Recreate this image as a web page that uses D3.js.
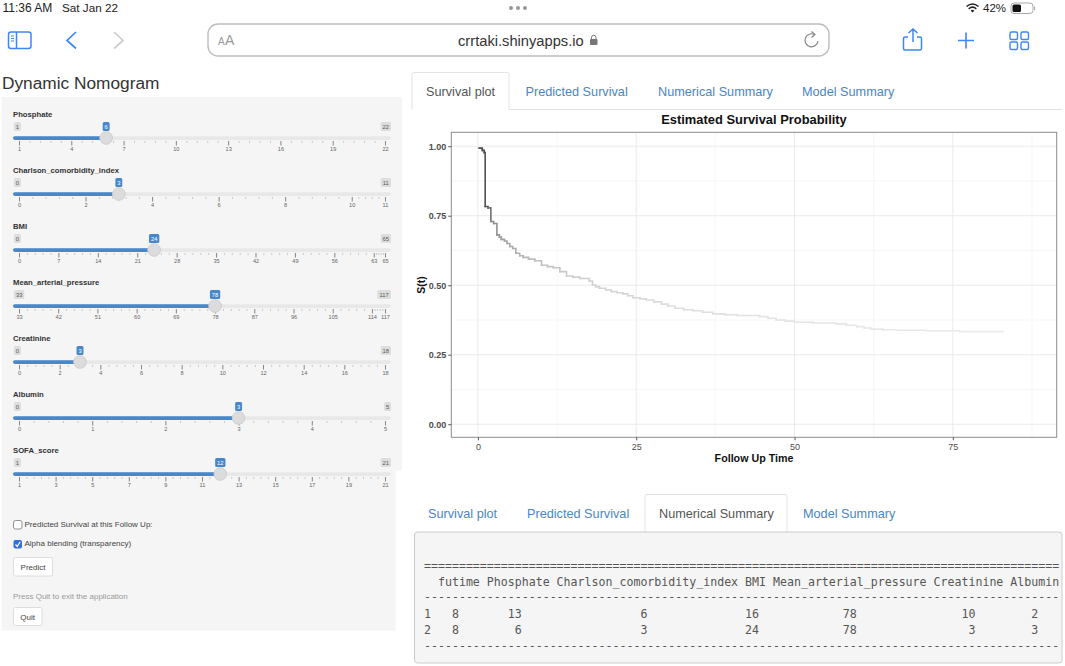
<!DOCTYPE html>
<html>
<head>
<meta charset="utf-8">
<title>Dynamic Nomogram</title>
<script src="https://cdn.jsdelivr.net/npm/d3@7"></script>
<style>
  html, body { margin: 0; padding: 0; background: #fff; overflow: hidden; }
  svg { display: block; font-family: "Liberation Sans", Arial, sans-serif; }
  .mono { font-family: "DejaVu Sans Mono", monospace; font-size: 11.6px; fill: #555; white-space: pre; }
  .axisX .domain, .axisY .domain { display: none; }
</style>
</head>
<body>
<svg id="page" width="1065" height="666"></svg>
<script>
// survival curve, each value holds from its time on
const times = [0.2, 0.7, 1.0, 1.15, 1.6, 2.05, 2.5, 3.0, 3.4, 3.7, 4.2, 4.6, 5.05, 5.5, 6.0, 6.6, 7.15, 8.0, 9.0, 10.05, 11.0, 11.9, 12.95, 14.0, 15.0, 16.1, 17.6, 18.1, 18.6, 19.2, 20.2, 21.1, 22.0, 22.9, 23.7, 24.5, 25.6, 26.6, 27.8, 29.0, 30.0, 31.1, 32.5, 34.0, 35.5, 37.1, 39.0, 41.0, 44.5, 45.8, 47.1, 48.5, 50.0, 53.0, 56.6, 58.2, 59.8, 61.0, 62.1, 64.0, 66.1, 70.8, 76.1, 82.9];
const survival = [0.993, 0.985, 0.977, 0.783, 0.778, 0.729, 0.722, 0.681, 0.673, 0.665, 0.659, 0.650, 0.639, 0.632, 0.615, 0.606, 0.600, 0.594, 0.588, 0.572, 0.567, 0.563, 0.549, 0.533, 0.529, 0.524, 0.515, 0.501, 0.495, 0.489, 0.483, 0.477, 0.473, 0.469, 0.462, 0.455, 0.451, 0.447, 0.440, 0.432, 0.425, 0.417, 0.412, 0.408, 0.403, 0.397, 0.394, 0.391, 0.387, 0.381, 0.375, 0.371, 0.367, 0.364, 0.361, 0.356, 0.351, 0.346, 0.342, 0.340, 0.338, 0.336, 0.333, 0.333];

const xTicks = [0, 25, 50, 75];
const xMinorTicks = [12.5, 37.5, 62.5, 87.5];
const yTicks = [0, 0.25, 0.5, 0.75, 1];
const yMinorTicks = [0.125, 0.375, 0.625, 0.875];

// sliders
const sliderNames = ['Phosphate', 'Charlson_comorbidity_index', 'BMI', 'Mean_arterial_pressure', 'Creatinine', 'Albumin', 'SOFA_score'];
const sliderMin = [1, 0, 0, 33, 0, 0, 1];
const sliderMax = [22, 11, 65, 117, 18, 5, 21];
const sliderValue = [6, 3, 24, 78, 3, 3, 12];
const sliderTicks = [
  [1, 4, 7, 10, 13, 16, 19, 22],
  [0, 2, 4, 6, 8, 10, 11],
  [0, 7, 14, 21, 28, 35, 42, 49, 56, 63, 65],
  [33, 42, 51, 60, 69, 78, 87, 96, 105, 114, 117],
  [0, 2, 4, 6, 8, 10, 12, 14, 16, 18],
  [0, 1, 2, 3, 4, 5],
  [1, 3, 5, 7, 9, 11, 13, 15, 17, 19, 21]
];

// tabs
const tabNames = ['Survival plot', 'Predicted Survival', 'Numerical Summary', 'Model Summary'];
const topTabX = [426, 525.5, 658, 802];
const bottomTabX = [428, 527, 659, 803];

// numerical summary, [text, last char index]
const tableHeader = '  futime Phosphate Charlson_comorbidity_index BMI Mean_arterial_pressure Creatinine Albumin';
const tableEnds = [4, 13, 31, 47, 61, 78, 87];
const tableRows = [
  [8, 13, 6, 16, 78, 10, 2],
  [8, 6, 3, 24, 78, 3, 3]
];

const blue = '#3d86f5';
const linkBlue = '#4a86c2';
const svg = d3.select('#page');

// ---- ipad status bar + safari toolbar
const label = (g, x, y, txt, size, fill, anchor, weight) => g.append('text')
  .attr('x', x).attr('y', y).attr('font-size', size).attr('fill', fill)
  .attr('text-anchor', anchor || 'start').attr('font-weight', weight || 'normal').text(txt);

const chrome = svg.append('g');
label(chrome, 2.5, 12, '11:36 AM', 12, '#222');
label(chrome, 62, 12, 'Sat Jan 22', 11.7, '#222');
label(chrome, 983, 12, '42%', 11.5, '#222');
[511, 518, 525].forEach(x => chrome.append('circle').attr('cx', x).attr('cy', 8).attr('r', 2).attr('fill', '#999'));

// wifi
chrome.append('path').attr('d', 'M966.5 6.5 Q972.5 1.5 978.5 6.5 M968.7 8.8 Q972.5 5.6 976.3 8.8').attr('fill', 'none').attr('stroke', '#222').attr('stroke-width', 1.6);
chrome.append('path').attr('d', 'M970.6 10.4 L972.5 12.5 L974.4 10.4 Q972.5 9 970.6 10.4 Z').attr('fill', '#222');
// battery
chrome.append('rect').attr('x', 1011).attr('y', 3).attr('width', 22).attr('height', 10.5).attr('rx', 3).attr('fill', 'none').attr('stroke', '#aaa');
chrome.append('rect').attr('x', 1012.5).attr('y', 4.5).attr('width', 8.5).attr('height', 7.5).attr('rx', 1.5).attr('fill', '#111');
chrome.append('path').attr('d', 'M1034.5 6.5 v3.5').attr('stroke', '#aaa').attr('stroke-width', 1.2);

// sidebar button, back, forward
chrome.append('rect').attr('x', 8.5).attr('y', 32).attr('width', 22.5).attr('height', 16.5).attr('rx', 2.5).attr('fill', 'none').attr('stroke', blue).attr('stroke-width', 1.5);
chrome.append('path').attr('d', 'M16.5 32 v16.5').attr('stroke', blue).attr('stroke-width', 1.5);
chrome.append('path').attr('d', 'M11 36 h3 M11 38.5 h3 M11 41 h3').attr('stroke', blue).attr('stroke-width', 1);
chrome.append('path').attr('d', 'M76 32 L67 40.5 L76 48.5').attr('fill', 'none').attr('stroke', blue).attr('stroke-width', 1.7);
chrome.append('path').attr('d', 'M114 32 L123 40.5 L114 48.5').attr('fill', 'none').attr('stroke', '#ccc').attr('stroke-width', 1.7);

// url bar
chrome.append('rect').attr('x', 208).attr('y', 24).attr('width', 621).attr('height', 32).attr('rx', 10).attr('fill', '#fff').attr('stroke', '#bdbdbd').attr('stroke-width', 1.4);
label(chrome, 218, 45, 'A', 10, '#999');
label(chrome, 225, 45, 'A', 14, '#999');
label(chrome, 458, 45.5, 'crrtaki.shinyapps.io', 14.7, '#333');
chrome.append('rect').attr('x', 590).attr('y', 39).attr('width', 7.5).attr('height', 6).attr('rx', 1).attr('fill', '#777');
chrome.append('path').attr('d', 'M591.5 39 v-1.5 a2.2 2.2 0 0 1 4.5 0 v1.5').attr('fill', 'none').attr('stroke', '#777');
chrome.append('path').attr('d', 'M814.5 34.5 A6.5 6.5 0 1 0 818 41').attr('fill', 'none').attr('stroke', '#888').attr('stroke-width', 1.2);
chrome.append('path').attr('d', 'M811.5 31.5 L815 34.5 L811.5 37.5').attr('fill', 'none').attr('stroke', '#888').attr('stroke-width', 1.2);

// share, plus, tabs
chrome.append('path').attr('d', 'M908 37 h-3 a1.5 1.5 0 0 0 -1.5 1.5 v10 a1.5 1.5 0 0 0 1.5 1.5 h15 a1.5 1.5 0 0 0 1.5 -1.5 v-10 a1.5 1.5 0 0 0 -1.5 -1.5 h-3 M913 42 v-13 M908.5 33 L913 29 L917.5 33').attr('fill', 'none').attr('stroke', blue).attr('stroke-width', 1.5);
chrome.append('path').attr('d', 'M958 40.5 h16 M966 32.5 v16').attr('stroke', blue).attr('stroke-width', 1.6);
[[1010, 32], [1021, 32], [1010, 42], [1021, 42]].forEach(p => chrome.append('rect')
  .attr('x', p[0]).attr('y', p[1]).attr('width', 7.5).attr('height', 7.5).attr('rx', 1.5)
  .attr('fill', 'none').attr('stroke', blue).attr('stroke-width', 1.4));

// ---- left panel
label(svg, 2, 89, 'Dynamic Nomogram', 17.3, '#333');
svg.append('rect').attr('x', 1.5).attr('y', 97).attr('width', 400.5).attr('height', 373.5).attr('fill', '#f5f5f5');
svg.append('rect').attr('x', 1.5).attr('y', 470).attr('width', 394).attr('height', 160.5).attr('fill', '#f5f5f5');

const sliderStep = 56;
sliderNames.forEach((name, i) => {
  const g = svg.append('g').attr('transform', `translate(0, ${i * sliderStep})`);
  const sx = d3.scaleLinear().domain([sliderMin[i], sliderMax[i]]).range([19, 385]);

  label(g, 13, 117, name, 7.7, '#333', 'start', 'bold');

  // min / max badges
  const badge = (x, txt, fill, color) => {
    const w = String(txt).length * 3.4 + 3.5;
    g.append('rect').attr('x', x - w / 2).attr('y', 122).attr('width', w).attr('height', 9).attr('rx', 1.5).attr('fill', fill);
    label(g, x, 128.7, txt, 5.8, color, 'middle');
  };
  const minTxt = String(sliderMin[i]), maxTxt = String(sliderMax[i]);
  badge(13 + (minTxt.length * 3.4 + 3.5) / 2 + 1, minTxt, '#ddd', '#555');
  badge(391 - (maxTxt.length * 3.4 + 3.5) / 2, maxTxt, '#ddd', '#555');

  // track
  g.append('rect').attr('x', 13).attr('y', 136.3).attr('width', 378).attr('height', 3.6).attr('rx', 1.8).attr('fill', '#e8e8e8');
  g.append('rect').attr('x', 13).attr('y', 136.3).attr('width', sx(sliderValue[i]) - 13).attr('height', 3.6).attr('rx', 1.8).attr('fill', '#4787cc');

  // grid under the track
  const major = sliderTicks[i];
  const minor = [];
  d3.pairs(major).forEach(([a, b]) => d3.range(1, 5).forEach(k => minor.push(a + (b - a) * k / 5)));
  g.append('g').attr('transform', 'translate(0, 141)')
    .call(d3.axisBottom(sx).tickValues(minor).tickSize(2).tickFormat(''))
    .call(a => a.select('.domain').remove())
    .call(a => a.selectAll('line').attr('stroke', '#aaa').attr('stroke-width', 0.6));
  g.append('g').attr('transform', 'translate(0, 141)')
    .call(d3.axisBottom(sx).tickValues(major).tickSize(4.5).tickPadding(1.5).tickFormat(d3.format('d')))
    .call(a => a.select('.domain').remove())
    .call(a => a.selectAll('line').attr('stroke', '#555').attr('stroke-width', 0.7))
    .call(a => a.selectAll('text').attr('font-size', 5.6).attr('font-family', 'Liberation Sans').attr('fill', '#666'));

  // handle + value
  badge(sx(sliderValue[i]), sliderValue[i], '#4787cc', '#fff');
  g.append('circle').attr('cx', sx(sliderValue[i])).attr('cy', 138).attr('r', 6.3).attr('fill', '#dcdcdc').attr('stroke', '#cfcfcf');
});

// checkboxes + buttons
svg.append('rect').attr('x', 13.5).attr('y', 520.5).attr('width', 8.5).attr('height', 8.5).attr('rx', 2).attr('fill', '#fff').attr('stroke', '#777').attr('stroke-width', 0.8);
label(svg, 24.5, 527, 'Predicted Survival at this Follow Up:', 8, '#444');
svg.append('rect').attr('x', 13.5).attr('y', 540).attr('width', 8.5).attr('height', 8.5).attr('rx', 2).attr('fill', '#2f6fe0');
svg.append('path').attr('d', 'M15.5 544.5 L17.3 546.5 L20.2 541.8').attr('fill', 'none').attr('stroke', '#fff').attr('stroke-width', 1.2);
label(svg, 24.5, 546, 'Alpha blending (transparency)', 8, '#444');
svg.append('rect').attr('x', 13.5).attr('y', 557.5).attr('width', 39).attr('height', 18.5).attr('rx', 2).attr('fill', '#fff').attr('stroke', '#ddd');
label(svg, 33, 569.5, 'Predict', 8, '#444', 'middle');
label(svg, 13, 598.5, 'Press Quit to exit the application', 8, '#999');
svg.append('rect').attr('x', 13.5).attr('y', 607.5).attr('width', 28.5).attr('height', 18).attr('rx', 2).attr('fill', '#fff').attr('stroke', '#ddd');
label(svg, 27.7, 619.5, 'Quit', 8, '#444', 'middle');

// ---- tabs
const tabs = (y, xs, active, left, width, lineY, lineFrom) => {
  svg.append('path').attr('d', `M${lineFrom} ${lineY} H1062`).attr('stroke', '#e3e3e3');
  svg.append('path').attr('d', `M${left} ${lineY} V${y + 2} a2 2 0 0 1 2 -2 H${left + width - 2} a2 2 0 0 1 2 2 V${lineY}`)
    .attr('fill', '#fff').attr('stroke', '#e3e3e3');
  tabNames.forEach((t, i) => label(svg, xs[i], y + 23.5, t, 12.7, i === active ? '#555' : linkBlue));
};
tabs(72.5, topTabX, 0, 412, 97, 109.5, 509);
tabs(494.5, bottomTabX, 2, 645, 142, 532, 1062);

// ---- survival plot
const x = d3.scaleLinear().domain([-4.2, 91.4]).range([451.3, 1056.7]);
const y = d3.scaleLinear().domain([-0.047, 1.05]).range([437.3, 132.3]);
const plot = svg.append('g');

plot.selectAll('.vminor').data(xMinorTicks).join('line').attr('class', 'vminor')
  .attr('x1', d => x(d)).attr('x2', d => x(d)).attr('y1', y.range()[1]).attr('y2', y.range()[0])
  .attr('stroke', '#f4f4f4').attr('stroke-width', 0.7);
plot.selectAll('.hminor').data(yMinorTicks).join('line').attr('class', 'hminor')
  .attr('y1', d => y(d)).attr('y2', d => y(d)).attr('x1', x.range()[0]).attr('x2', x.range()[1])
  .attr('stroke', '#f4f4f4').attr('stroke-width', 0.7);
plot.selectAll('.vmajor').data(xTicks).join('line').attr('class', 'vmajor')
  .attr('x1', d => x(d)).attr('x2', d => x(d)).attr('y1', y.range()[1]).attr('y2', y.range()[0])
  .attr('stroke', '#ebebeb');
plot.selectAll('.hmajor').data(yTicks).join('line').attr('class', 'hmajor')
  .attr('y1', d => y(d)).attr('y2', d => y(d)).attr('x1', x.range()[0]).attr('x2', x.range()[1])
  .attr('stroke', '#ebebeb');

// alpha blending makes the line fade out as the risk set shrinks
const fade = d3.scaleLinear().domain([0, 1.2, 2, 4, 8, 15, 25, 45, 83])
  .range(['#444', '#555', '#8a8a8a', '#a4a4a4', '#bcbcbc', '#cecece', '#dadada', '#e4e4e4', '#ececec']);
const stepLine = d3.line().x(d => x(d[0])).y(d => y(d[1])).curve(d3.curveStepAfter);
const pts = times.map((t, i) => [t, survival[i]]);
plot.selectAll('.step').data(d3.pairs(pts)).join('path').attr('class', 'step')
  .attr('d', d => stepLine(d))
  .attr('fill', 'none').attr('stroke-width', 1.6).attr('stroke-linecap', 'square')
  .attr('stroke', d => fade(d[0][0]));

plot.append('rect').attr('x', x.range()[0]).attr('y', y.range()[1])
  .attr('width', x.range()[1] - x.range()[0]).attr('height', y.range()[0] - y.range()[1])
  .attr('fill', 'none').attr('stroke', '#8c8c8c').attr('stroke-width', 1);

plot.append('g').attr('class', 'axisX').attr('transform', `translate(0, ${y.range()[0]})`)
  .call(d3.axisBottom(x).tickValues(xTicks).tickSize(3).tickPadding(3).tickFormat(d3.format('d')))
  .call(a => a.selectAll('text').attr('font-size', 9).attr('font-family', 'Liberation Sans').attr('fill', '#4d4d4d'))
  .call(a => a.selectAll('line').attr('stroke', '#555'));
plot.append('g').attr('class', 'axisY').attr('transform', `translate(${x.range()[0]}, 0)`)
  .call(d3.axisLeft(y).tickValues(yTicks).tickSize(3).tickPadding(2).tickFormat(d3.format('.2f')))
  .call(a => a.selectAll('text').attr('font-size', 9).attr('font-family', 'Liberation Sans').attr('fill', '#4d4d4d').attr('font-weight', 'bold'))
  .call(a => a.selectAll('line').attr('stroke', '#555'));

label(plot, 754, 124, 'Estimated Survival Probability', 12.9, '#111', 'middle', 'bold');
label(plot, 754, 462, 'Follow Up Time', 10.7, '#111', 'middle', 'bold');
label(plot, 0, 0, 'S(t)', 10.5, '#111', 'middle', 'bold').attr('transform', 'translate(425, 285) rotate(-90)');

// ---- numerical summary
svg.append('rect').attr('x', 414.5).attr('y', 532).attr('width', 647.5).attr('height', 131).attr('rx', 3)
  .attr('fill', '#f5f5f5').attr('stroke', '#ccc');
const mono = (yy, txt) => svg.append('text').attr('class', 'mono').attr('xml:space', 'preserve')
  .attr('x', 424).attr('y', yy).text(txt);
const rowText = (n, vals) => {
  let s = String(n);
  vals.forEach((v, i) => { s = s.padEnd(tableEnds[i] + 1 - String(v).length) + v; });
  return s;
};
mono(570, '='.repeat(tableHeader.length));
mono(586, tableHeader);
mono(601.2, '-'.repeat(tableHeader.length));
tableRows.forEach((r, i) => mono(618.3 + i * 16, rowText(i + 1, r)));
mono(649.5, '-'.repeat(tableHeader.length));
</script>
</body>
</html>
